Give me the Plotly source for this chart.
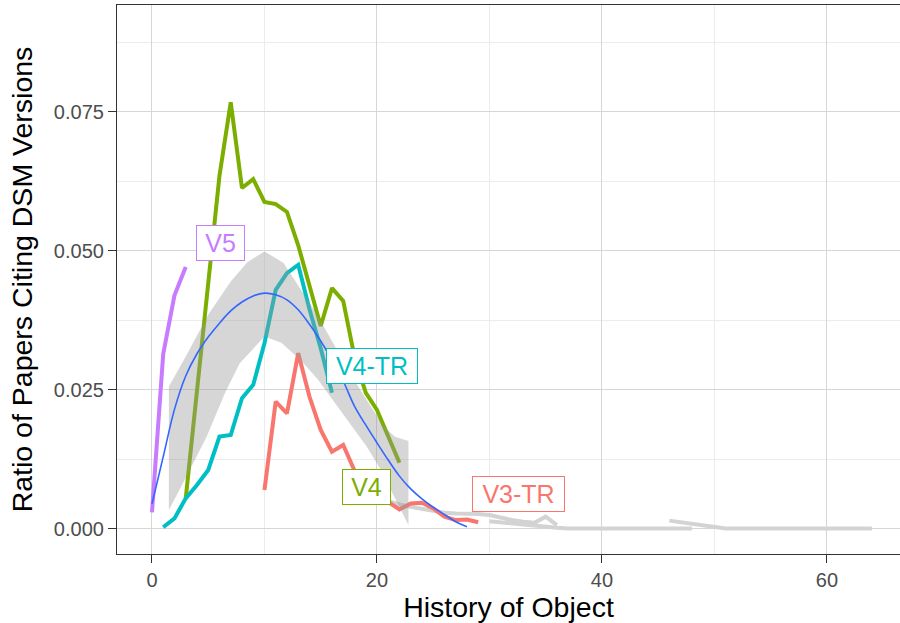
import plotly.graph_objects as go

# ---- data ----
v5_x = [0, 1, 2, 3]
v5_y = [0.0030, 0.0315, 0.0420, 0.0471]

v4_x = [3, 4, 5, 6, 7, 8, 9, 10, 11, 12, 13, 14, 15, 16, 17, 18, 19, 20, 21, 22]
v4_y = [0.0055, 0.0250, 0.0430, 0.0635, 0.0767, 0.0613, 0.0629, 0.0588, 0.0584, 0.0570,
        0.0510, 0.0440, 0.0365, 0.0433, 0.0410, 0.0310, 0.0245, 0.0214, 0.0167, 0.0119]

v4tr_x = [1, 2, 3, 4, 5, 6, 7, 8, 9, 10, 11, 12, 13, 14, 15, 16]
v4tr_y = [0.0003, 0.0019, 0.0055, 0.0079, 0.0106, 0.0166, 0.0169, 0.0235, 0.0259, 0.0334,
          0.0430, 0.0460, 0.0475, 0.0395, 0.0325, 0.0245]

v3tr_x = [10, 11, 12, 13, 14, 15, 16, 17, 18, 19, 20, 21, 22, 23, 24, 25, 26, 27, 28, 29]
v3tr_y = [0.0070, 0.0229, 0.0208, 0.0316, 0.0238, 0.0178, 0.0139, 0.0151, 0.0105, 0.0080,
          0.0062, 0.0049, 0.0035, 0.0046, 0.0047, 0.0037, 0.0022, 0.0016, 0.0017, 0.0012]

grey1_x = [21, 22, 23, 24, 25, 26, 27, 28, 29, 30, 31, 32, 33, 34, 35, 36]
grey1_y = [0.0050, 0.0044, 0.0040, 0.0036, 0.0032, 0.0029, 0.0028, 0.0028, 0.0027, 0.0025,
           0.0020, 0.0016, 0.0013, 0.0011, 0.0022, 0.0007]

grey2_x = [30, 31, 32, 33, 34, 35, 36, 37, 38, 39, 40, 41, 42, 43, 44, 45, 46, 47, 48]
grey2_y = [0.0014, 0.0012, 0.0009, 0.0007, 0.0005, 0.0003, 0.0002, 0.0001, 0.0001, 0.0001,
           0.0000, 0.0001, 0.0001, 0.0001, 0.0001, 0.0001, 0.0001, 0.0001, 0.0001]

grey3_x = [46, 47, 48, 49, 50, 51, 52, 53, 54, 55, 56, 57, 58, 59, 60, 61, 62, 63, 64]
grey3_y = [0.0015, 0.0012, 0.0009, 0.0006, 0.0003, 0.0001, 0.0001, 0.0001, 0.0001, 0.0001,
           0.0001, 0.0001, 0.0001, 0.0001, 0.0001, 0.0000, 0.0001, 0.0001, 0.0001]

smooth_x = list(range(0, 29))
smooth_y = [0.0045, 0.0130, 0.0215, 0.0275, 0.0315, 0.0345, 0.0370, 0.0392, 0.0408, 0.0419,
            0.0424, 0.0421, 0.0412, 0.0394, 0.0368, 0.0338, 0.0304, 0.0266, 0.0221, 0.0187,
            0.0155, 0.0124, 0.0095, 0.0072, 0.0054, 0.0039, 0.0026, 0.0013, 0.0004]

ribbon_upper_x = [1.5, 3, 5, 7, 8.5, 10, 11.7, 13, 14.6, 16, 17.6, 19, 20.6, 21.6, 22.8]
ribbon_upper_y = [0.0256, 0.0310, 0.0385, 0.0445, 0.0480, 0.0499, 0.0478, 0.0438, 0.0388,
                  0.0338, 0.0280, 0.0235, 0.0184, 0.0166, 0.0158]
ribbon_lower_x = [1.5, 3, 4.86, 6.5, 7.8, 10, 11.5, 13.2, 14.7, 16.1, 17.6, 19.1, 20.3, 21.4, 22.8]
ribbon_lower_y = [0.0034, 0.0092, 0.0166, 0.0245, 0.0298, 0.0346, 0.0335, 0.0304, 0.0270,
                  0.0232, 0.0190, 0.0148, 0.0108, 0.0064, 0.0007]

x_ticks = [0, 20, 40, 60]
y_ticks = [0.0, 0.025, 0.05, 0.075]
y_tick_labels = ["0.000", "0.025", "0.050", "0.075"]

series_names = ["V5", "V4", "V4-TR", "V3-TR"]
series_colors = {"V5": "#C77CFF", "V4": "#7CAE00", "V4-TR": "#00BFC4", "V3-TR": "#F8766D"}
label_pos = {"V5": (6.1, 0.0515), "V4-TR": (19.6, 0.0293), "V4": (19.05, 0.0075), "V3-TR": (32.6, 0.0062)}
label_box_w = {"V5": 41, "V4": 41, "V4-TR": 84, "V3-TR": 85}

fig = go.Figure()

grey = "#d3d3d3"
for gx, gy in [(grey1_x, grey1_y), (grey2_x, grey2_y), (grey3_x, grey3_y)]:
    fig.add_trace(go.Scatter(x=gx, y=gy, mode="lines", line=dict(color=grey, width=4),
                             hoverinfo="skip", showlegend=False))

data = {"V5": (v5_x, v5_y), "V4": (v4_x, v4_y), "V4-TR": (v4tr_x, v4tr_y), "V3-TR": (v3tr_x, v3tr_y)}
for name in ["V3-TR", "V4", "V4-TR", "V5"]:
    sx, sy = data[name]
    fig.add_trace(go.Scatter(x=sx, y=sy, mode="lines", name=name,
                             line=dict(color=series_colors[name], width=4),
                             showlegend=False))

fig.add_trace(go.Scatter(x=ribbon_upper_x + ribbon_lower_x[::-1],
                         y=ribbon_upper_y + ribbon_lower_y[::-1],
                         mode="lines", fill="toself", fillcolor="rgba(153,153,153,0.4)",
                         line=dict(width=0), hoverinfo="skip", showlegend=False))
fig.add_trace(go.Scatter(x=smooth_x, y=smooth_y, mode="lines", line=dict(color="#3366FF", width=1.6, shape="spline"),
                         showlegend=False))

for name in series_names:
    lx, ly = label_pos[name]
    c = series_colors[name]
    fig.add_annotation(x=lx, y=ly, text=name, showarrow=False, width=label_box_w[name],
                       font=dict(family="Liberation Sans, Arial", size=25, color=c),
                       bgcolor="white", bordercolor=c, borderwidth=1, borderpad=3)

fig.update_layout(
    width=900, height=623,
    margin=dict(l=117, r=0, t=5, b=69),
    plot_bgcolor="white", paper_bgcolor="white",
    font=dict(family="Liberation Sans, Arial", color="#4d4d4d"),
)
fig.update_xaxes(
    automargin=False,
    range=[-3.11, 66.5], tickmode="array", tickvals=x_ticks, ticktext=[str(v) for v in x_ticks],
    showgrid=True, gridcolor="#d6d6d6", gridwidth=1,
    minor=dict(tickvals=[10, 30, 50], showgrid=True, gridcolor="#ececec", gridwidth=1, ticks=""),
    zeroline=False, showline=True, linecolor="#333333", linewidth=1.2, mirror=True,
    ticks="outside", ticklen=8, tickcolor="#333333",
    tickfont=dict(size=20, color="#4d4d4d"),
    title=dict(text="History of Object", font=dict(size=28.5, color="black"), standoff=10),
)
fig.update_yaxes(
    automargin=False,
    range=[-0.0045, 0.0942], tickmode="array", tickvals=y_ticks, ticktext=y_tick_labels,
    showgrid=True, gridcolor="#d6d6d6", gridwidth=1,
    minor=dict(tickvals=[0.0125, 0.0375, 0.0625, 0.0875], showgrid=True, gridcolor="#ececec", gridwidth=1, ticks=""),
    zeroline=False, showline=True, linecolor="#333333", linewidth=1.2, mirror=False,
    ticks="outside", ticklen=8, tickcolor="#333333",
    tickfont=dict(size=20, color="#4d4d4d"),
    title=dict(text="Ratio of Papers Citing DSM Versions", font=dict(size=28.5, color="black"), standoff=12),
)

fig.write_html("out.html", config={"displayModeBar": False},
               post_script="document.body.style.margin='0px';document.body.style.overflow='hidden';")
